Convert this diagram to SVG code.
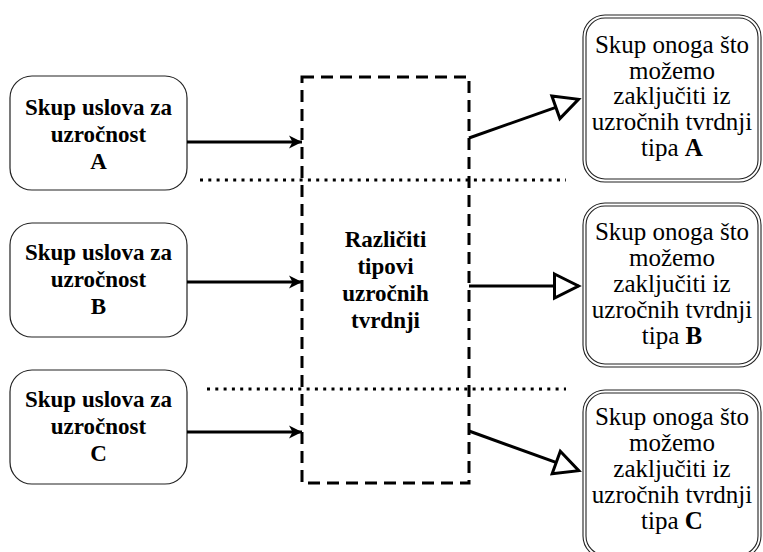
<svg xmlns="http://www.w3.org/2000/svg" width="763" height="552" viewBox="0 0 763 552">
<style>
.src{fill:#fff;stroke:#222;stroke-width:1.2}
.dst{fill:#fff;stroke:#222;stroke-width:1.1}
.t{font-family:'Liberation Serif','Times New Roman','DejaVu Serif',serif;fill:#000;text-anchor:middle}
.b{font-weight:bold;font-size:23px}
.r{font-size:25px}
.conn{stroke:#000;stroke-width:3;fill:none}
.dash{stroke:#000;stroke-width:3;fill:none;stroke-dasharray:12 7}
.dot{stroke:#000;stroke-width:3;fill:none;stroke-dasharray:3 5.3}
</style>
<defs>
<marker id="fill" markerUnits="userSpaceOnUse" markerWidth="14" markerHeight="14" refX="13" refY="6.5" orient="auto" overflow="visible">
<path d="M0,0 L13,6.5 L0,13 L3.5,6.5 Z" fill="#000"/>
</marker>
<marker id="open" markerUnits="userSpaceOnUse" markerWidth="30" markerHeight="30" refX="24" refY="12" orient="auto" overflow="visible">
<path d="M0,0 L24,12 L0,24 Z" fill="#fff" stroke="#000" stroke-width="3"/>
</marker>
</defs>

<g id="center">
<rect class="dash" x="302" y="77" width="167" height="406"/>
<text class="t b"><tspan x="385.5" y="247">Različiti</tspan><tspan x="385.5" y="274">tipovi</tspan><tspan x="385.5" y="301">uzročnih</tspan><tspan x="385.5" y="328">tvrdnji</tspan></text>
</g>

<g id="dividers">
<line class="dot" x1="200" y1="180" x2="566" y2="180"/>
<line class="dot" x1="207" y1="389" x2="566" y2="389"/>
</g>

<g id="srcA">
<rect class="src" x="10" y="76" width="177" height="114" rx="22"/>
<text class="t b"><tspan x="98.5" y="115">Skup uslova za</tspan><tspan x="98.5" y="142">uzročnost</tspan><tspan x="98.5" y="169">A</tspan></text>
</g>
<g id="srcB">
<rect class="src" x="10" y="223" width="177" height="114" rx="22"/>
<text class="t b"><tspan x="98.5" y="260">Skup uslova za</tspan><tspan x="98.5" y="287">uzročnost</tspan><tspan x="98.5" y="314">B</tspan></text>
</g>
<g id="srcC">
<rect class="src" x="10" y="370" width="177" height="114" rx="22"/>
<text class="t b"><tspan x="98.5" y="407">Skup uslova za</tspan><tspan x="98.5" y="434">uzročnost</tspan><tspan x="98.5" y="461">C</tspan></text>
</g>

<g id="dstA">
<rect class="dst" x="583" y="15" width="178" height="167" rx="22"/>
<rect class="dst" x="586" y="18" width="172" height="161" rx="19"/>
<text class="t r"><tspan x="672" y="53">Skup onoga što</tspan><tspan x="672" y="79">možemo</tspan><tspan x="672" y="104">zaključiti iz</tspan><tspan x="672" y="130">uzročnih tvrdnji</tspan><tspan x="672" y="156">tipa <tspan font-weight="bold">A</tspan></tspan></text>
</g>
<g id="dstB">
<rect class="dst" x="583" y="203" width="178" height="164" rx="22"/>
<rect class="dst" x="586" y="206" width="172" height="158" rx="19"/>
<text class="t r"><tspan x="672" y="240">Skup onoga što</tspan><tspan x="672" y="266">možemo</tspan><tspan x="672" y="292">zaključiti iz</tspan><tspan x="672" y="318">uzročnih tvrdnji</tspan><tspan x="672" y="344">tipa <tspan font-weight="bold">B</tspan></tspan></text>
</g>
<g id="dstC">
<rect class="dst" x="583" y="390" width="178" height="168" rx="22"/>
<rect class="dst" x="586" y="393" width="172" height="162" rx="19"/>
<text class="t r"><tspan x="672" y="425">Skup onoga što</tspan><tspan x="672" y="451">možemo</tspan><tspan x="672" y="477">zaključiti iz</tspan><tspan x="672" y="503">uzročnih tvrdnji</tspan><tspan x="672" y="529">tipa <tspan font-weight="bold">C</tspan></tspan></text>
</g>

<g id="connectors">
<line class="conn" x1="187" y1="142" x2="302" y2="142" marker-end="url(#fill)"/>
<line class="conn" x1="187" y1="282" x2="302" y2="282" marker-end="url(#fill)"/>
<line class="conn" x1="187" y1="432" x2="302" y2="432" marker-end="url(#fill)"/>
<line class="conn" x1="469" y1="138" x2="578.5" y2="99.3" marker-end="url(#open)"/>
<line class="conn" x1="469" y1="286" x2="578.5" y2="286" marker-end="url(#open)"/>
<line class="conn" x1="469" y1="431" x2="578.8" y2="470.7" marker-end="url(#open)"/>
</g>
</svg>
